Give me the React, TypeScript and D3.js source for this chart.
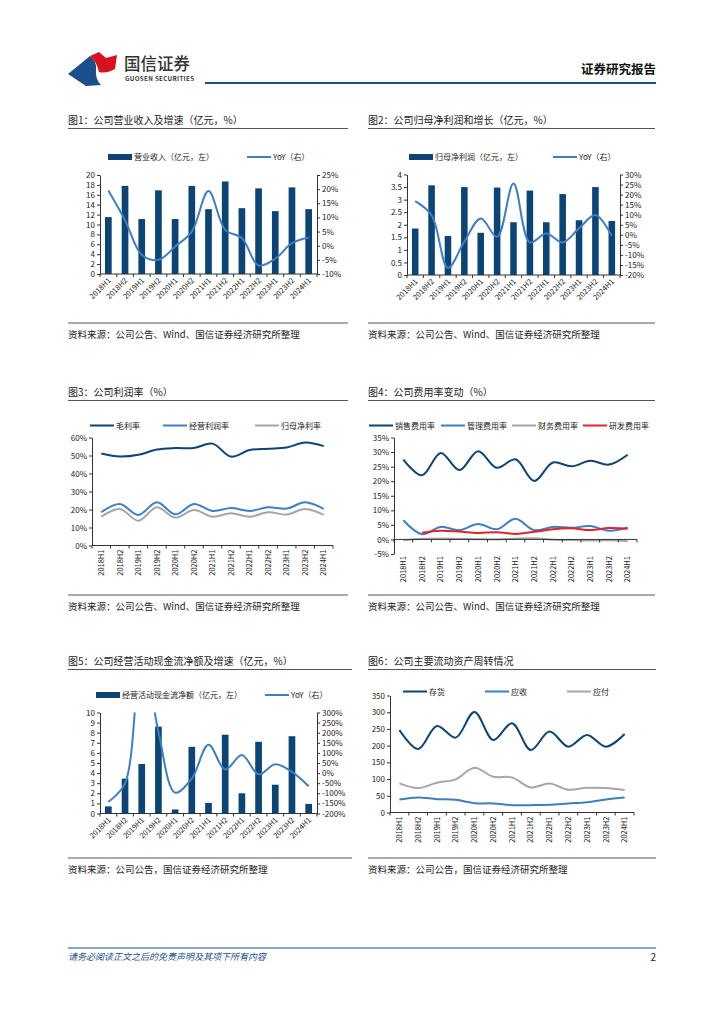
import React, { useRef, useEffect } from 'react';
import * as d3 from 'd3';

const periods = [
  '2018H1', '2018H2', '2019H1', '2019H2', '2020H1', '2020H2', '2021H1',
  '2021H2', '2022H1', '2022H2', '2023H1', '2023H2', '2024H1',
];

// 图1 营业收入（亿元）及同比（%）
const revenue = [11.5, 17.8, 11.1, 16.9, 11.1, 17.8, 13.1, 18.7, 13.3, 17.3, 12.7, 17.5, 13.1];
const revenueYoy = [19.5, 9.0, -3.2, -5.0, -0.3, 5.0, 19.3, 5.6, 2.7, -7.0, -4.6, 0.9, 2.9];

// 图2 归母净利润（亿元）及同比（%）
const netProfit = [1.85, 3.57, 1.55, 3.5, 1.68, 3.48, 2.1, 3.36, 2.1, 3.22, 2.18, 3.5, 2.15];
const netProfitYoy = [16.8, 9.8, -16.4, -3.4, 8.1, -1.0, 25.5, -3.8, 0.7, -3.8, 3.2, 9.8, -0.5];

// 图3 利润率（%）
const grossMargin = [51.1, 49.4, 50.4, 53.3, 54.1, 54.2, 56.6, 49.4, 53.0, 53.7, 54.4, 57.2, 55.2];
const opMargin = [18.5, 23.1, 17.0, 24.0, 17.3, 23.1, 19.2, 20.8, 19.2, 21.2, 20.5, 24.0, 20.3];
const netMargin = [16.0, 20.3, 13.8, 21.2, 15.5, 19.7, 16.0, 17.9, 16.0, 18.5, 17.2, 20.3, 17.0];

// 图4 费用率（%）
const sellingRate = [27.4, 22.0, 29.7, 23.8, 30.3, 24.6, 27.5, 20.1, 26.4, 25.1, 27.0, 25.7, 29.1];
const adminRate = [6.6, 1.8, 4.3, 3.2, 5.3, 3.5, 7.1, 3.2, 4.3, 4.0, 4.6, 3.0, 4.1];
const financeRate = [-0.3, 0.2, 0.3, 0.2, 0.1, 0.0, 0.3, 0.4, -0.1, -0.2, -0.4, -0.3, -0.6];
const rdRate: (number | null)[] = [null, 2.3, 3.0, 2.7, 2.2, 2.5, 1.9, 2.6, 3.5, 3.8, 3.2, 3.9, 3.7];

// 图5 经营活动现金流净额（亿元）及同比（%）
const opCashFlow = [0.7, 3.45, 4.9, 8.6, 0.4, 6.6, 1.05, 7.8, 2.0, 7.1, 2.85, 7.65, 0.95];
const opCashFlowYoy = [-142, -51, 620, 205, -97, -27, 140, 18, 90, -6, 44, 6, -65];

// 图6 周转天数
const inventoryDays = [247, 190, 259, 224, 301, 217, 267, 187, 242, 197, 232, 197, 235];
const receivableDays = [39, 45, 40, 38, 28, 27, 22, 22, 23, 27, 31, 39, 45];
const payableDays = [87, 73, 89, 99, 134, 107, 105, 75, 87, 68, 74, 73, 67];

const FONT = '"Noto Sans CJK SC", "Noto Sans", sans-serif';
const NAVY = '#0d4476';
const BLUE = '#3c7fc3';
const GRAY = '#a6a6a6';
const RED = '#e2222c';
const INK = '#222';
const BRAND = '#1d4f8a';

type G = d3.Selection<SVGGElement, unknown, null, undefined>;

interface Frame {
  left: number;
  right: number;
  top: number;
  bottom: number;
}

const pct = (d: d3.NumberValue) => `${d}%`;
const plain = (d: d3.NumberValue) => `${d}`;

function heading(g: G, x0: number, x1: number, titleY: number, title: string, srcY: number, src: string) {
  g.append('text').attr('x', x0).attr('y', titleY).attr('font-size', 10).attr('fill', INK).text(title);
  g.append('line').attr('x1', x0).attr('x2', x1).attr('y1', titleY + 4.5).attr('y2', titleY + 4.5)
    .attr('stroke', '#555').attr('stroke-width', 1.2);
  g.append('line').attr('x1', x0).attr('x2', x1).attr('y1', srcY - 15).attr('y2', srcY - 15)
    .attr('stroke', '#555').attr('stroke-width', 1.2);
  g.append('text').attr('x', x0).attr('y', srcY).attr('font-size', 9.5).attr('fill', INK).text(src);
}

function yAxis(g: G, scale: d3.ScaleLinear<number, number>, x: number, side: 'left' | 'right', ticks: number[], fmt: (d: d3.NumberValue) => string) {
  const ax = (side === 'left' ? d3.axisLeft(scale) : d3.axisRight(scale))
    .tickValues(ticks).tickFormat(fmt).tickSize(3).tickSizeOuter(0).tickPadding(2);
  g.append('g').attr('transform', `translate(${x},0)`).call(ax)
    .attr('font-family', FONT).attr('font-size', 8)
    .call((s) => s.select('.domain').attr('stroke', '#333'))
    .call((s) => s.selectAll('.tick line').attr('stroke', '#333'))
    .call((s) => s.selectAll('.tick text').attr('fill', INK));
}

function xAxis(g: G, x: d3.ScaleBand<string>, axisY: number, labelY: number, rotate: 45 | 90) {
  const [l, r] = x.range();
  const step = x.step();
  g.append('line').attr('x1', l).attr('x2', r).attr('y1', axisY).attr('y2', axisY).attr('stroke', '#333');
  g.selectAll(null).data(d3.range(periods.length + 1)).join('line')
    .attr('x1', (i) => l + i * step).attr('x2', (i) => l + i * step)
    .attr('y1', axisY).attr('y2', axisY + 3).attr('stroke', '#333');
  g.selectAll(null).data(periods).join('text')
    .attr('font-size', 7.5).attr('fill', INK).attr('text-anchor', 'end')
    .attr('transform', (p) => {
      const cx = (x(p) ?? 0) + x.bandwidth() / 2;
      return rotate === 45
        ? `translate(${cx + 3},${labelY}) rotate(-45)`
        : `translate(${cx + 2.7},${labelY}) rotate(-90)`;
    })
    .text((p) => p);
}

interface LegendItem {
  kind: 'bar' | 'line';
  color: string;
  x: number;
  label: string;
}

function legend(g: G, y: number, items: LegendItem[]) {
  items.forEach((it) => {
    if (it.kind === 'bar') {
      g.append('rect').attr('x', it.x).attr('y', y - 3).attr('width', 24).attr('height', 6).attr('fill', it.color);
    } else {
      g.append('line').attr('x1', it.x).attr('x2', it.x + 24).attr('y1', y).attr('y2', y)
        .attr('stroke', it.color).attr('stroke-width', 2);
    }
    g.append('text').attr('x', it.x + 26).attr('y', y + 3).attr('font-size', 8).attr('fill', INK).text(it.label);
  });
}

function drawLine(g: G, x: d3.ScaleBand<string>, y: d3.ScaleLinear<number, number>, values: (number | null)[], color: string, clip?: string) {
  const line = d3.line<number | null>()
    .defined((v) => v !== null)
    .x((_, i) => (x(periods[i]) ?? 0) + x.bandwidth() / 2)
    .y((v) => y(v as number))
    .curve(d3.curveCatmullRom.alpha(0.5));
  const path = g.append('path').datum(values).attr('fill', 'none').attr('stroke', color)
    .attr('stroke-width', 2).attr('d', line);
  if (clip) path.attr('clip-path', `url(#${clip})`);
}

function drawBars(g: G, x: d3.ScaleBand<string>, y: d3.ScaleLinear<number, number>, values: number[]) {
  g.selectAll(null).data(values).join('rect')
    .attr('x', (_, i) => x(periods[i]) ?? 0)
    .attr('width', x.bandwidth())
    .attr('y', (v) => y(v))
    .attr('height', (v) => y(0) - y(v))
    .attr('fill', NAVY);
}

function makeX(f: Frame) {
  return d3.scaleBand<string>().domain(periods).range([f.left, f.right]).paddingInner(0.6).paddingOuter(0.3);
}

const ticks = (a: number, b: number, s: number) => d3.range(a, b + s / 2, s).map((v) => +v.toFixed(2));

const App = () => {
  const ref = useRef<SVGSVGElement | null>(null);

  useEffect(() => {
    if (!ref.current) return;
    const svg = d3.select(ref.current);
    svg.selectAll('*').remove();
    const root = svg.append('g').attr('font-family', FONT) as unknown as G;

    // header
    root.append('path').attr('d', 'M68,74 L90,56 Q97,61 96,70 Q95,79 101,85 L86,86 Z').attr('fill', '#1b4f8c');
    root.append('path').attr('d', 'M90,56 L99,52 L106,58 L117,55 L115,69 Q106,74 99,72 Q97,62 90,56 Z').attr('fill', '#d8121f');
    root.append('text').attr('x', 124).attr('y', 70).attr('font-size', 16.5).attr('font-weight', 500).attr('fill', '#333').text('国信证券');
    root.append('text').attr('x', 125).attr('y', 81).attr('font-size', 6.2).attr('font-weight', 700)
      .attr('fill', '#333').attr('textLength', 69).text('GUOSEN SECURITIES');
    root.append('text').attr('x', 656).attr('y', 74).attr('text-anchor', 'end').attr('font-size', 12.5)
      .attr('font-weight', 700).attr('fill', '#111').text('证券研究报告');
    root.append('line').attr('x1', 205).attr('x2', 656).attr('y1', 83).attr('y2', 83).attr('stroke', BRAND).attr('stroke-width', 2);

    // footer
    root.append('line').attr('x1', 68).attr('x2', 656).attr('y1', 948).attr('y2', 948).attr('stroke', BRAND).attr('stroke-width', 1);
    root.append('text').attr('x', 68).attr('y', 960).attr('font-size', 9).attr('font-style', 'italic')
      .attr('fill', BRAND).text('请务必阅读正文之后的免责声明及其项下所有内容');
    root.append('text').attr('x', 656).attr('y', 961).attr('text-anchor', 'end').attr('font-size', 10).attr('fill', INK).text('2');

    const src1 = '资料来源：公司公告、Wind、国信证券经济研究所整理';
    const src2 = '资料来源：公司公告，国信证券经济研究所整理';

    // 图1
    {
      const g = root.append('g') as G;
      heading(g, 68, 348, 124, '图1：公司营业收入及增速（亿元，%）', 338, src1);
      const f = { left: 100, right: 317, top: 175, bottom: 274 };
      const x = makeX(f);
      const yl = d3.scaleLinear().domain([0, 20]).range([f.bottom, f.top]);
      const yr = d3.scaleLinear().domain([-10, 25]).range([f.bottom, f.top]);
      drawBars(g, x, yl, revenue);
      drawLine(g, x, yr, revenueYoy, BLUE);
      yAxis(g, yl, f.left, 'left', ticks(0, 20, 2), plain);
      yAxis(g, yr, f.right, 'right', ticks(-10, 25, 5), pct);
      xAxis(g, x, f.bottom, f.bottom + 7, 45);
      legend(g, 157, [
        { kind: 'bar', color: NAVY, x: 108, label: '营业收入（亿元，左）' },
        { kind: 'line', color: BLUE, x: 247, label: 'YoY（右）' },
      ]);
    }

    // 图2
    {
      const g = root.append('g') as G;
      heading(g, 368, 655, 124, '图2：公司归母净利润和增长（亿元，%）', 338, src1);
      const f = { left: 407, right: 620, top: 174.5, bottom: 275 };
      const x = makeX(f);
      const yl = d3.scaleLinear().domain([0, 4]).range([f.bottom, f.top]);
      const yr = d3.scaleLinear().domain([-20, 30]).range([f.bottom, f.top]);
      drawBars(g, x, yl, netProfit);
      drawLine(g, x, yr, netProfitYoy, BLUE);
      yAxis(g, yl, f.left, 'left', ticks(0, 4, 0.5), plain);
      yAxis(g, yr, f.right, 'right', ticks(-20, 30, 5), pct);
      xAxis(g, x, f.bottom, f.bottom + 7, 45);
      legend(g, 157, [
        { kind: 'bar', color: NAVY, x: 409, label: '归母净利润（亿元，左）' },
        { kind: 'line', color: BLUE, x: 553, label: 'YoY（右）' },
      ]);
    }

    // 图3
    {
      const g = root.append('g') as G;
      heading(g, 68, 348, 396, '图3：公司利润率（%）', 610, src1);
      const f = { left: 92, right: 333, top: 437.5, bottom: 545.5 };
      const x = makeX(f);
      const y = d3.scaleLinear().domain([0, 60]).range([f.bottom, f.top]);
      drawLine(g, x, y, grossMargin, NAVY);
      drawLine(g, x, y, opMargin, BLUE);
      drawLine(g, x, y, netMargin, GRAY);
      yAxis(g, y, f.left, 'left', ticks(0, 60, 10), pct);
      xAxis(g, x, f.bottom, f.bottom + 4, 90);
      legend(g, 425.5, [
        { kind: 'line', color: NAVY, x: 90, label: '毛利率' },
        { kind: 'line', color: BLUE, x: 163, label: '经营利润率' },
        { kind: 'line', color: GRAY, x: 255, label: '归母净利率' },
      ]);
    }

    // 图4
    {
      const g = root.append('g') as G;
      heading(g, 368, 655, 396, '图4：公司费用率变动（%）', 610, src1);
      const f = { left: 394, right: 637, top: 437.5, bottom: 554 };
      const x = makeX(f);
      const y = d3.scaleLinear().domain([-5, 35]).range([f.bottom, f.top]);
      drawLine(g, x, y, sellingRate, NAVY);
      drawLine(g, x, y, adminRate, BLUE);
      drawLine(g, x, y, financeRate, GRAY);
      drawLine(g, x, y, rdRate, RED);
      yAxis(g, y, f.left, 'left', ticks(-5, 35, 5), pct);
      xAxis(g, x, y(0), f.bottom + 2, 90);
      legend(g, 425.5, [
        { kind: 'line', color: NAVY, x: 369, label: '销售费用率' },
        { kind: 'line', color: BLUE, x: 441, label: '管理费用率' },
        { kind: 'line', color: GRAY, x: 512, label: '财务费用率' },
        { kind: 'line', color: RED, x: 583, label: '研发费用率' },
      ]);
    }

    // 图5
    {
      const g = root.append('g') as G;
      heading(g, 68, 352, 665, '图5：公司经营活动现金流净额及增速（亿元，%）', 873, src2);
      const f = { left: 100, right: 317, top: 712.5, bottom: 813.5 };
      const x = makeX(f);
      const yl = d3.scaleLinear().domain([0, 10]).range([f.bottom, f.top]);
      const yr = d3.scaleLinear().domain([-200, 300]).range([f.bottom, f.top]);
      svg.append('defs').append('clipPath').attr('id', 'clip5').append('rect')
        .attr('x', f.left).attr('y', f.top).attr('width', f.right - f.left).attr('height', f.bottom - f.top);
      drawBars(g, x, yl, opCashFlow);
      drawLine(g, x, yr, opCashFlowYoy, BLUE, 'clip5');
      yAxis(g, yl, f.left, 'left', ticks(0, 10, 1), plain);
      yAxis(g, yr, f.right, 'right', ticks(-200, 300, 50), pct);
      xAxis(g, x, f.bottom, f.bottom + 7, 45);
      legend(g, 695, [
        { kind: 'bar', color: NAVY, x: 96, label: '经营活动现金流净额（亿元，左）' },
        { kind: 'line', color: BLUE, x: 265, label: 'YoY（右）' },
      ]);
    }

    // 图6
    {
      const g = root.append('g') as G;
      heading(g, 368, 656, 665, '图6：公司主要流动资产周转情况', 873, src2);
      const f = { left: 390, right: 634, top: 695.5, bottom: 812.5 };
      const x = makeX(f);
      const y = d3.scaleLinear().domain([0, 350]).range([f.bottom, f.top]);
      drawLine(g, x, y, inventoryDays, NAVY);
      drawLine(g, x, y, receivableDays, BLUE);
      drawLine(g, x, y, payableDays, GRAY);
      yAxis(g, y, f.left, 'left', ticks(0, 350, 50), plain);
      xAxis(g, x, f.bottom, f.bottom + 4, 90);
      legend(g, 691.5, [
        { kind: 'line', color: NAVY, x: 403, label: '存货' },
        { kind: 'line', color: BLUE, x: 485, label: '应收' },
        { kind: 'line', color: GRAY, x: 567, label: '应付' },
      ]);
    }
  }, []);

  return (
    <svg
      ref={ref}
      width={724}
      height={1024}
      style={{ position: 'absolute', left: 0, top: 0, background: '#fff' }}
    />
  );
};

export default App;
